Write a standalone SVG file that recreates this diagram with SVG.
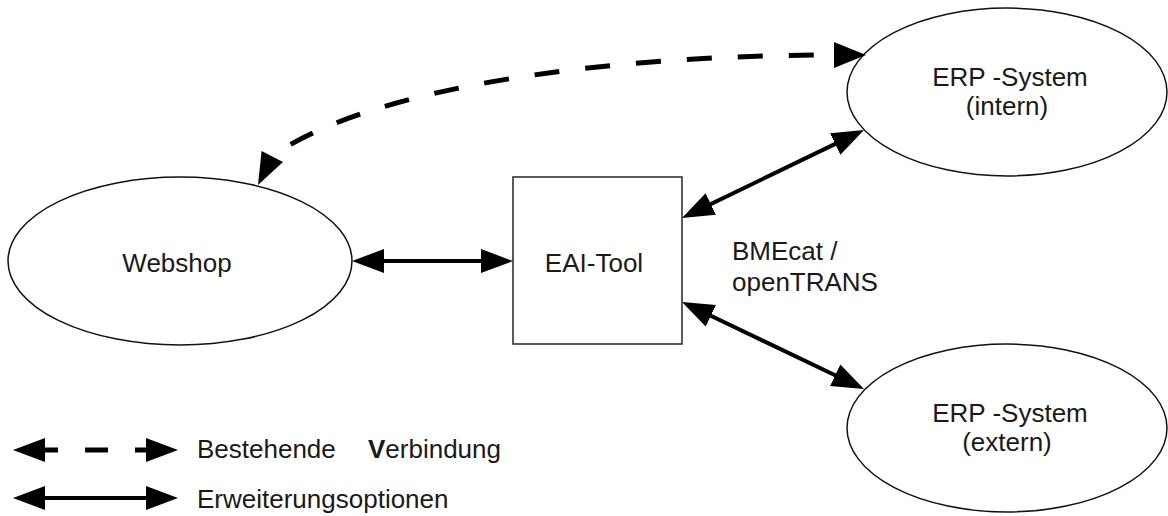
<svg xmlns="http://www.w3.org/2000/svg" width="1168" height="516" viewBox="0 0 1168 516">
  <style>
    .shape { fill: #ffffff; stroke: #111111; stroke-width: 1.5; }
    .box { fill: #ffffff; stroke: #333333; stroke-width: 1.6; }
    .label { font-family: "Liberation Sans", Arial, sans-serif; font-size: 26px; fill: #1a1a1a; }
    .mid { text-anchor: middle; }
    .solid { fill: none; stroke: #000000; stroke-width: 4; }
    .dash { fill: none; stroke: #000000; stroke-width: 5; }
    .head { fill: #000000; }
  </style>
  <defs>
    <marker id="arrow" viewBox="0 0 32 24" refX="22" refY="12" markerWidth="32" markerHeight="24" markerUnits="userSpaceOnUse" orient="auto-start-reverse">
      <path d="M0,0 L32,12 L0,24 Z" fill="#000000"/>
    </marker>
  </defs>

  <rect width="1168" height="516" fill="#ffffff"/>

  <!-- nodes -->
  <g id="webshop">
    <ellipse class="shape" cx="180" cy="261" rx="172" ry="84"/>
    <text class="label mid" x="177" y="272">Webshop</text>
  </g>

  <g id="eai-tool">
    <rect class="box" x="513" y="177" width="169" height="167"/>
    <text class="label mid" x="594" y="272">EAI-Tool</text>
  </g>

  <g id="erp-intern">
    <ellipse class="shape" cx="1007" cy="92" rx="160" ry="84"/>
    <text class="label mid" x="1010" y="86">ERP -System</text>
    <text class="label mid" x="1007" y="115">(intern)</text>
  </g>

  <g id="erp-extern">
    <ellipse class="shape" cx="1007" cy="428" rx="160" ry="84"/>
    <text class="label mid" x="1010" y="422">ERP -System</text>
    <text class="label mid" x="1007" y="451">(extern)</text>
  </g>

  <!-- connectors -->
  <g id="connectors">
    <!-- existing link: webshop to internal ERP -->
    <path class="dash" d="M 272 156 C 370 88, 600 55, 834 55" stroke-dasharray="25 26" stroke-dashoffset="-22"/>
    <polygon class="head" points="283,162 258,185 261.6,151"/>
    <polygon class="head" points="834,42 866,55 834,68"/>

    <!-- extension options -->
    <line class="solid" x1="362" y1="261" x2="503" y2="261" marker-start="url(#arrow)" marker-end="url(#arrow)"/>
    <line class="solid" x1="691" y1="213.6" x2="855" y2="134.4" marker-start="url(#arrow)" marker-end="url(#arrow)"/>
    <line class="solid" x1="691" y1="306.3" x2="855" y2="384.7" marker-start="url(#arrow)" marker-end="url(#arrow)"/>

    <text class="label" x="732" y="260">BMEcat /</text>
    <text class="label" x="732" y="291">openTRANS</text>
  </g>

  <!-- legend -->
  <g id="legend">
    <line class="dash" x1="23" y1="450" x2="58" y2="450" marker-start="url(#arrow)"/>
    <line class="dash" x1="85" y1="450" x2="108" y2="450"/>
    <line class="dash" x1="135" y1="450" x2="168" y2="450" marker-end="url(#arrow)"/>
    <text class="label" x="197" y="458">Bestehende<tspan x="368" font-weight="bold">V</tspan>erbindung</text>

    <line class="solid" x1="23" y1="498" x2="168" y2="498" marker-start="url(#arrow)" marker-end="url(#arrow)"/>
    <text class="label" x="197" y="508">Erweiterungsoptionen</text>
  </g>
</svg>
